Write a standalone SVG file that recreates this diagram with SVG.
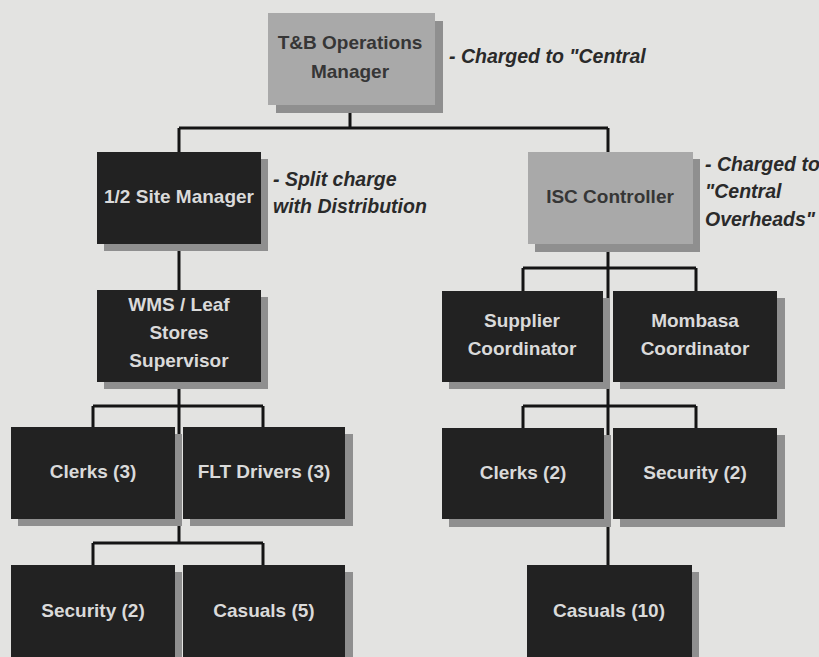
<svg xmlns="http://www.w3.org/2000/svg" width="819" height="657" viewBox="0 0 819 657">
  <style>
    .bg { fill: #e3e3e1; }
    .shadow { fill: #8f8f8f; }
    .dark { fill: #222222; }
    .light { fill: #a9a9a9; }
    .lbl { font-family: "Liberation Sans", Arial, sans-serif; font-weight: bold; font-size: 19px; text-anchor: middle; fill: #dadada; }
    .lbl-dark { fill: #363636; }
    .note { font-family: "Liberation Sans", Arial, sans-serif; font-weight: bold; font-style: italic; font-size: 19.5px; fill: #2a2a2a; }
    .wire { fill: none; stroke: #141414; stroke-width: 3; }
  </style>

  <rect class="bg" x="0" y="0" width="819" height="657"/>

  <!-- connectors -->
  <g id="connectors">
    <path class="wire" d="M350 105 V128 M179 128 H608 M179 128 V152 M608 128 V152"/>
    <path class="wire" d="M179 244 V290"/>
    <path class="wire" d="M179 382 V543 M93 406 H263 M93 406 V427 M263 406 V427 M93 543 H263 M93 543 V565 M263 543 V565"/>
    <path class="wire" d="M608 244 V565 M523 268 H696 M523 268 V291 M696 268 V291 M523 406 H696 M523 406 V428 M696 406 V428"/>
  </g>

  <!-- top manager -->
  <g id="tb-ops-manager">
    <rect class="shadow" x="276" y="21" width="167" height="92"/>
    <rect class="light" x="268" y="13" width="167" height="92"/>
    <text class="lbl lbl-dark" x="350" y="49">T&amp;B Operations</text>
    <text class="lbl lbl-dark" x="350" y="78">Manager</text>
    <text class="note" x="449" y="63">- Charged to "Central</text>
  </g>

  <!-- left branch -->
  <g id="site-manager">
    <rect class="shadow" x="104" y="159" width="164" height="92"/>
    <rect class="dark" x="97" y="152" width="164" height="92"/>
    <text class="lbl" x="179" y="203">1/2 Site Manager</text>
    <text class="note" x="273" y="186">- Split charge</text>
    <text class="note" x="273" y="213">with Distribution</text>
  </g>

  <g id="wms-supervisor">
    <rect class="shadow" x="104" y="297" width="164" height="92"/>
    <rect class="dark" x="97" y="290" width="164" height="92"/>
    <text class="lbl" x="179" y="311">WMS / Leaf</text>
    <text class="lbl" x="179" y="339">Stores</text>
    <text class="lbl" x="179" y="367">Supervisor</text>
  </g>

  <g id="clerks-3">
    <rect class="shadow" x="18" y="434" width="164" height="92"/>
    <rect class="dark" x="11" y="427" width="164" height="92"/>
    <text class="lbl" x="93" y="478">Clerks (3)</text>
  </g>

  <g id="flt-drivers">
    <rect class="shadow" x="190" y="434" width="163" height="92"/>
    <rect class="dark" x="183" y="427" width="162" height="92"/>
    <text class="lbl" x="264" y="478">FLT Drivers (3)</text>
  </g>

  <g id="security-left">
    <rect class="shadow" x="18" y="572" width="164" height="92"/>
    <rect class="dark" x="11" y="565" width="164" height="92"/>
    <text class="lbl" x="93" y="617">Security (2)</text>
  </g>

  <g id="casuals-5">
    <rect class="shadow" x="190" y="572" width="163" height="92"/>
    <rect class="dark" x="183" y="565" width="162" height="92"/>
    <text class="lbl" x="264" y="617">Casuals (5)</text>
  </g>

  <!-- right branch -->
  <g id="isc-controller">
    <rect class="shadow" x="535" y="159" width="165" height="93"/>
    <rect class="light" x="528" y="152" width="165" height="92"/>
    <text class="lbl lbl-dark" x="610" y="203">ISC Controller</text>
    <text class="note" x="705" y="171">- Charged to</text>
    <text class="note" x="705" y="198">"Central</text>
    <text class="note" x="705" y="226">Overheads"</text>
  </g>

  <g id="supplier-coordinator">
    <rect class="shadow" x="449" y="298" width="161" height="91"/>
    <rect class="dark" x="442" y="291" width="161" height="91"/>
    <text class="lbl" x="522" y="327">Supplier</text>
    <text class="lbl" x="522" y="355">Coordinator</text>
  </g>

  <g id="mombasa-coordinator">
    <rect class="shadow" x="620" y="298" width="165" height="91"/>
    <rect class="dark" x="613" y="291" width="164" height="91"/>
    <text class="lbl" x="695" y="327">Mombasa</text>
    <text class="lbl" x="695" y="355">Coordinator</text>
  </g>

  <g id="clerks-2">
    <rect class="shadow" x="449" y="435" width="162" height="92"/>
    <rect class="dark" x="442" y="428" width="162" height="91"/>
    <text class="lbl" x="523" y="479">Clerks (2)</text>
  </g>

  <g id="security-right">
    <rect class="shadow" x="620" y="435" width="165" height="92"/>
    <rect class="dark" x="613" y="428" width="164" height="91"/>
    <text class="lbl" x="695" y="479">Security (2)</text>
  </g>

  <g id="casuals-10">
    <rect class="shadow" x="534" y="572" width="165" height="92"/>
    <rect class="dark" x="527" y="565" width="165" height="92"/>
    <text class="lbl" x="609" y="617">Casuals (10)</text>
  </g>
</svg>
